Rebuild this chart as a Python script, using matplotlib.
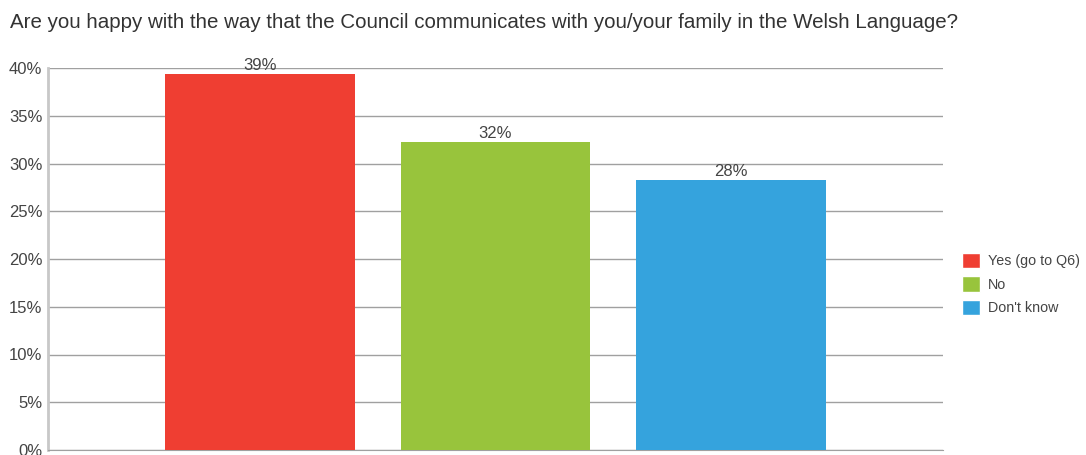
import matplotlib.pyplot as plt
from matplotlib.patches import Patch
from matplotlib.ticker import FuncFormatter

plt.rcParams['font.family'] = ['Liberation Sans', 'DejaVu Sans']

categories = ['Yes (go to Q6)', 'No', "Don't know"]
values = [39.4, 32.3, 28.3]
labels = ['39%', '32%', '28%']
colors = ['#EF3E32', '#98C43C', '#35A3DD']

fig = plt.figure(figsize=(10.86, 4.55), dpi=100)
ax = fig.add_axes([48 / 1086, 5 / 455, 895 / 1086, 382 / 455])

x = range(len(categories))
bars = ax.bar(x, values, width=0.805, color=colors, zorder=3)
for b, lab in zip(bars, labels):
    ax.text(b.get_x() + b.get_width() / 2, b.get_height() + 0.1, lab,
            ha='center', va='bottom', fontsize=12, color='#444444', zorder=4)

ax.set_xlim(-0.9, 2.9)
ax.set_ylim(0, 40)
ax.set_yticks(range(0, 41, 5))
ax.yaxis.set_major_formatter(FuncFormatter(lambda v, p: f'{int(v)}%'))
ax.set_xticks([])
ax.tick_params(axis='y', length=0, labelsize=12, labelcolor='#444444', pad=4)
ax.grid(axis='y', color='#a0a0a0', linewidth=1, zorder=0)
for s in ['top', 'right']:
    ax.spines[s].set_visible(False)
ax.spines['left'].set_color('#c8c8c8')
ax.spines['left'].set_linewidth(2)
ax.spines['bottom'].set_color('#a0a0a0')

handles = [Patch(facecolor=c, edgecolor='white') for c in colors]
fig.legend(handles, categories, loc='upper left', bbox_to_anchor=(949 / 1086, 1 - 240 / 455),
           frameon=False, fontsize=10.3, handlelength=1.3, handleheight=1.3,
           handletextpad=0.5, labelspacing=0.55, labelcolor='#444444')

fig.text(10 / 1086, 1 - 23 / 455, 'Are you happy with the way that the Council communicates with you/your family in the Welsh Language?',
         ha='left', va='center', fontsize=14.8, color='#333333')

fig.savefig('out.png', dpi=100)
